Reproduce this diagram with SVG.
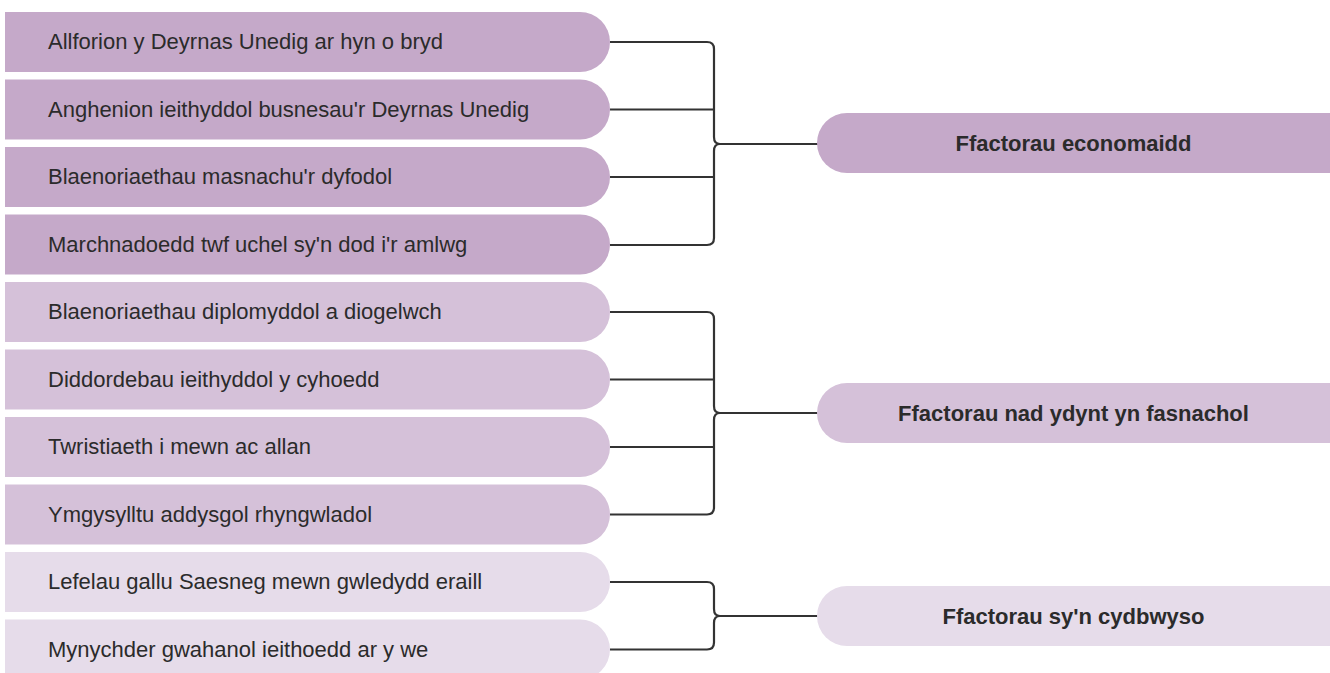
<svg xmlns="http://www.w3.org/2000/svg" width="1330" height="673" viewBox="0 0 1330 673">
<style>
.g1{fill:#C5A9C9}.g2{fill:#D5C1D9}.g3{fill:#E6DCEA}
.t{font-family:"Liberation Sans",Arial,sans-serif;font-size:22px;fill:#2b2b2b}
.b{font-family:"Liberation Sans",Arial,sans-serif;font-size:22px;font-weight:bold;fill:#2b2b2b;text-anchor:middle}
.c{fill:none;stroke:#333;stroke-width:2.2;stroke-linejoin:round}
</style>
<rect width="1330" height="673" fill="#fff"/>
<g id="connectors">
<path class="c" d="M610,42 H707 Q714,42 714,49 V137 Q714,144 720,144 Q714,144 714,151 V238 Q714,245 707,245 H610 M610,109.5 H714 M610,177 H714 M720,144 H818"/>
<path class="c" d="M610,312 H707 Q714,312 714,319 V406 Q714,413 720,413 Q714,413 714,420 V507.5 Q714,514.5 707,514.5 H610 M610,379.5 H714 M610,447 H714 M720,413 H818"/>
<path class="c" d="M610,582 H707 Q714,582 714,589 V609 Q714,616 720,616 Q714,616 714,623 V642.5 Q714,649.5 707,649.5 H610 M720,616 H818"/>
</g>
<g id="n1"><path class="g1" d="M5,12 H580 A30,30 0 0 1 580,72 H5 Z"/><text class="t" x="48" y="49">Allforion y Deyrnas Unedig ar hyn o bryd</text></g>
<g id="n2"><path class="g1" d="M5,79.5 H580 A30,30 0 0 1 580,139.5 H5 Z"/><text class="t" x="48" y="116.5">Anghenion ieithyddol busnesau'r Deyrnas Unedig</text></g>
<g id="n3"><path class="g1" d="M5,147 H580 A30,30 0 0 1 580,207 H5 Z"/><text class="t" x="48" y="184">Blaenoriaethau masnachu'r dyfodol</text></g>
<g id="n4"><path class="g1" d="M5,214.5 H580 A30,30 0 0 1 580,274.5 H5 Z"/><text class="t" x="48" y="251.5">Marchnadoedd twf uchel sy'n dod i'r amlwg</text></g>
<g id="n5"><path class="g2" d="M5,282 H580 A30,30 0 0 1 580,342 H5 Z"/><text class="t" x="48" y="319">Blaenoriaethau diplomyddol a diogelwch</text></g>
<g id="n6"><path class="g2" d="M5,349.5 H580 A30,30 0 0 1 580,409.5 H5 Z"/><text class="t" x="48" y="386.5">Diddordebau ieithyddol y cyhoedd</text></g>
<g id="n7"><path class="g2" d="M5,417 H580 A30,30 0 0 1 580,477 H5 Z"/><text class="t" x="48" y="454">Twristiaeth i mewn ac allan</text></g>
<g id="n8"><path class="g2" d="M5,484.5 H580 A30,30 0 0 1 580,544.5 H5 Z"/><text class="t" x="48" y="521.5">Ymgysylltu addysgol rhyngwladol</text></g>
<g id="n9"><path class="g3" d="M5,552 H580 A30,30 0 0 1 580,612 H5 Z"/><text class="t" x="48" y="589">Lefelau gallu Saesneg mewn gwledydd eraill</text></g>
<g id="n10"><path class="g3" d="M5,619.5 H580 A30,30 0 0 1 580,679.5 H5 Z"/><text class="t" x="48" y="656.5">Mynychder gwahanol ieithoedd ar y we</text></g>
<g id="r1"><path class="g1" d="M1335,113 H847 A30,30 0 0 0 847,173 H1335 Z"/><text class="b" x="1073.5" y="151">Ffactorau economaidd</text></g>
<g id="r2"><path class="g2" d="M1335,383 H847 A30,30 0 0 0 847,443 H1335 Z"/><text class="b" x="1073.5" y="421">Ffactorau nad ydynt yn fasnachol</text></g>
<g id="r3"><path class="g3" d="M1335,586 H847 A30,30 0 0 0 847,646 H1335 Z"/><text class="b" x="1073.5" y="624">Ffactorau sy'n cydbwyso</text></g>
</svg>
